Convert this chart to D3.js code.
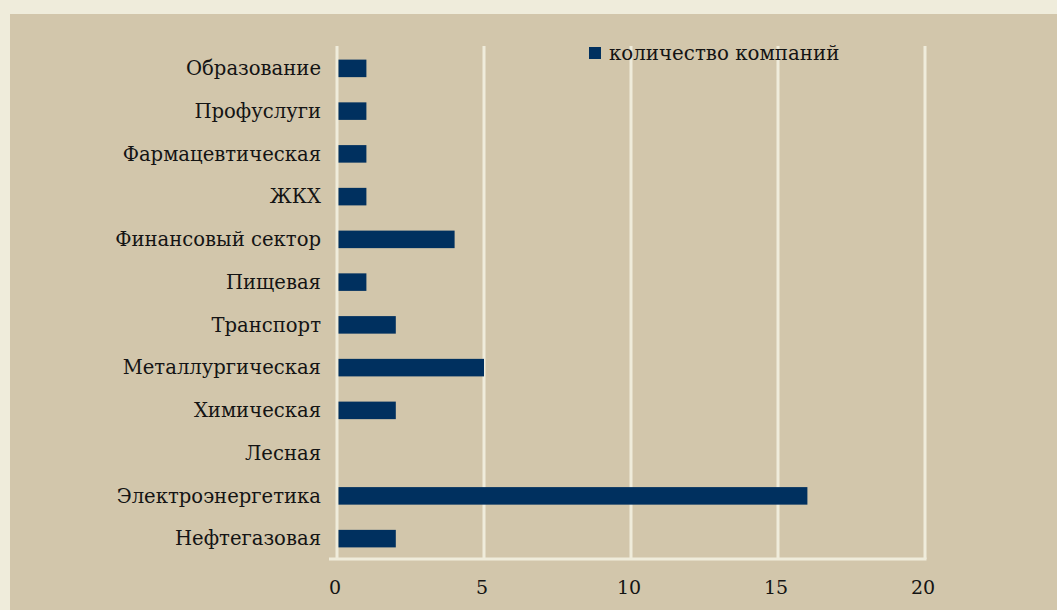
<!DOCTYPE html>
<html>
  <head>
    <meta charset="utf-8">
    <title>Количество компаний</title>
    <script src="https://d3js.org/d3.v7.min.js" charset="utf-8"></script>
    <style>
      body {
        margin: 0;
        overflow: hidden;
        background: #efecdb;
      }
      text {
        font-family: "DejaVu Serif", serif;
        fill: #141414;
      }
    </style>
  </head>
  <body>
    <script type="text/javascript">
      var width = 1057,
          height = 610;

      // categories top to bottom
      var industries = ["Образование", "Профуслуги", "Фармацевтическая", "ЖКХ", "Финансовый сектор",
                        "Пищевая", "Транспорт", "Металлургическая", "Химическая", "Лесная",
                        "Электроэнергетика", "Нефтегазовая"];
      var companies = [1, 1, 1, 1, 4, 1, 2, 5, 2, 0, 16, 2];
      var xTicks = [0, 5, 10, 15, 20];
      var seriesName = "количество компаний";

      var margin = {top: 46, right: 132, bottom: 51, left: 337};

      var svg = d3.select("body").append("svg")
                  .attr("width", width)
                  .attr("height", height);

      // panel
      svg.append("rect")
        .attr("x", 10)
        .attr("y", 14)
        .attr("width", width - 10)
        .attr("height", height - 14)
        .attr("fill", "#d2c6ab");

      var x = d3.scaleLinear()
                .domain([0, 20])
                .range([margin.left, width - margin.right]);

      var y = d3.scaleBand()
                .domain(industries)
                .range([margin.top + 1, height - margin.bottom + 1])
                .paddingInner(0.59)
                .paddingOuter(0.295);

      var g = svg.append("g");

      // vertical grid lines
      g.selectAll("line.grid")
        .data(xTicks)
        .enter()
        .append("line")
        .attr("class", "grid")
        .attr("x1", function(d) { return x(d); })
        .attr("x2", function(d) { return x(d); })
        .attr("y1", margin.top)
        .attr("y2", height - margin.bottom)
        .attr("stroke", "#efecdb")
        .attr("stroke-width", 3);

      // base line
      g.append("line")
        .attr("x1", x(0) - 8)
        .attr("x2", x(20) + 1.5)
        .attr("y1", height - margin.bottom)
        .attr("y2", height - margin.bottom)
        .attr("stroke", "#efecdb")
        .attr("stroke-width", 3);

      // bars
      g.selectAll("rect.bar")
        .data(companies)
        .enter()
        .append("rect")
        .attr("class", "bar")
        .attr("x", x(0) + 1.5)
        .attr("y", function(d, i) { return y(industries[i]); })
        .attr("width", function(d) { return Math.max(0, x(d) - x(0) - 1.5); })
        .attr("height", y.bandwidth())
        .attr("fill", "#00305f");

      // category labels
      g.selectAll("text.cat")
        .data(industries)
        .enter()
        .append("text")
        .attr("class", "cat")
        .attr("x", x(0) - 16)
        .attr("y", function(d) { return y(d) + y.bandwidth() / 2; })
        .attr("dy", "0.35em")
        .attr("text-anchor", "end")
        .style("font-size", "19.6px")
        .text(function(d) { return d; });

      // x tick labels
      g.selectAll("text.tick")
        .data(xTicks)
        .enter()
        .append("text")
        .attr("class", "tick")
        .attr("x", function(d) { return x(d) - 2; })
        .attr("y", 587)
        .attr("dy", "0.35em")
        .attr("text-anchor", "middle")
        .style("font-size", "19px")
        .text(function(d) { return d; });

      // legend
      var legend = svg.append("g").attr("transform", "translate(589,47)");
      legend.append("rect")
        .attr("width", 12)
        .attr("height", 12)
        .attr("fill", "#00305f");
      legend.append("text")
        .attr("x", 20)
        .attr("y", 6)
        .attr("dy", "0.35em")
        .style("font-size", "19.8px")
        .text(seriesName);
    </script>
  </body>
</html>
